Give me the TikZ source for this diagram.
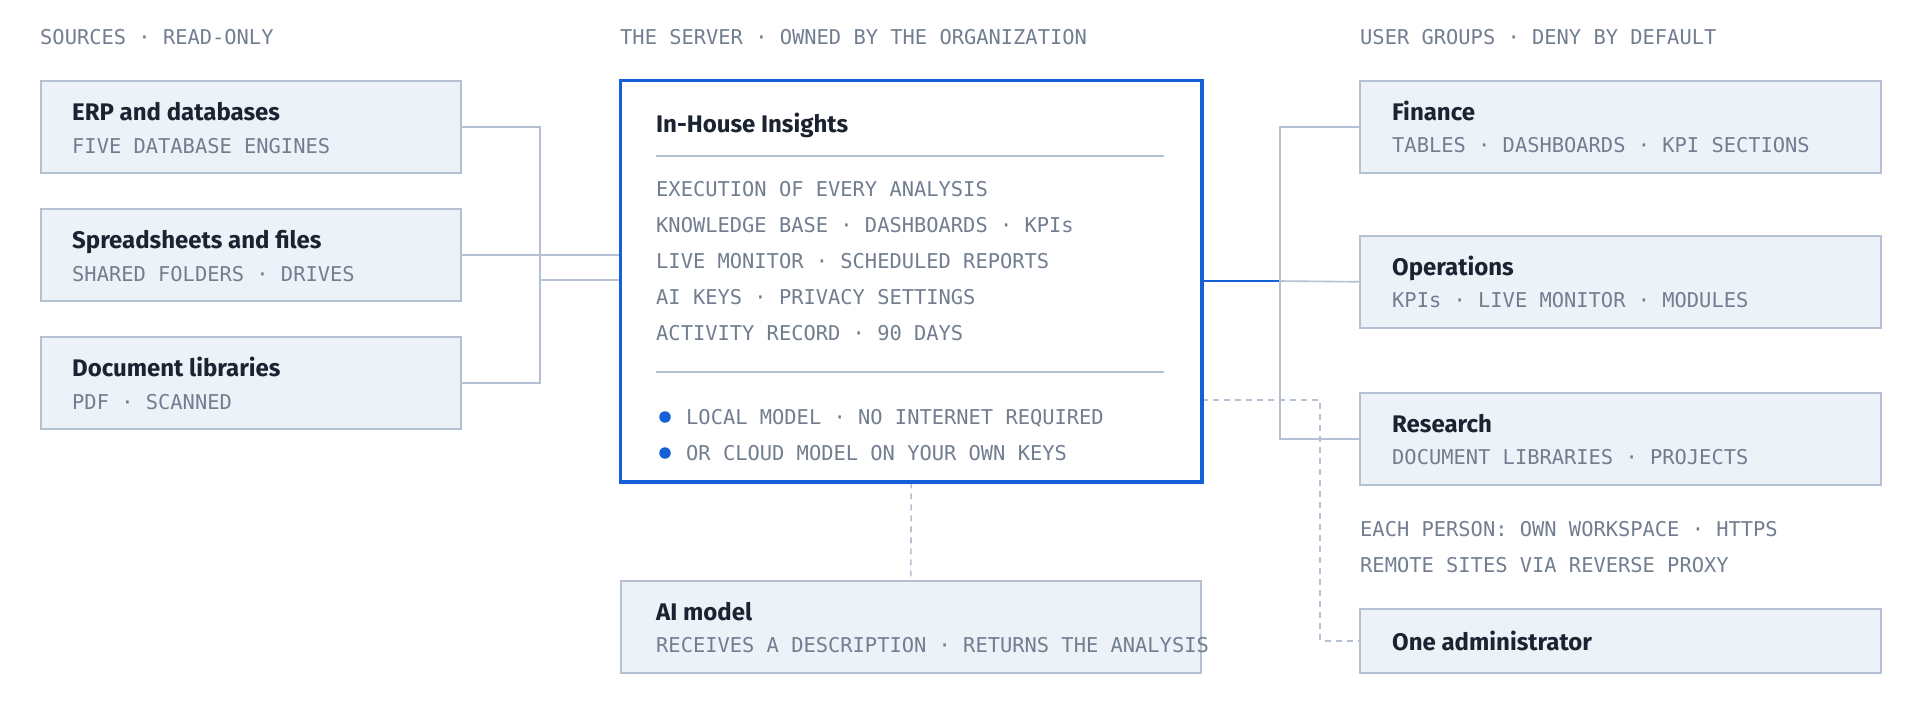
\documentclass[tikz,border=0pt]{standalone}
\usepackage{fontspec}
\setmainfont{Fira Sans}
\newfontfamily\monof{DejaVu Sans Mono}
\newfontfamily\titlef{Fira Sans}
\definecolor{boxfill}{HTML}{EDF1F8}
\definecolor{boxline}{HTML}{B5C1D3}
\definecolor{accent}{HTML}{1560D9}
\definecolor{titlec}{HTML}{1B2230}
\definecolor{monoc}{HTML}{727E90}
\tikzset{
  card/.style={draw=boxline, fill=boxfill, line width=1.6pt, rectangle, anchor=north west, inner sep=0pt},
  server/.style={draw=accent, fill=white, line width=2.4pt, rectangle, anchor=north west, inner sep=0pt},
  ttl/.style={anchor=base west, inner sep=0pt, text=titlec, font=\titlef\bfseries\fontsize{24}{28}\selectfont},
  mono/.style={anchor=base west, inner sep=0pt, text=monoc, font=\monof\fontsize{20.4}{24}\selectfont},
  conn/.style={draw=boxline, line width=1.6pt},
  bconn/.style={draw=accent, line width=1.6pt},
  dconn/.style={draw=boxline, line width=1.6pt, dash pattern=on 6pt off 5pt},
  sepline/.style={draw=boxline, line width=1.6pt},
  dot/.style={circle, fill=accent, inner sep=0pt, minimum size=11.5pt}
}
\begin{document}
\begin{tikzpicture}[x=1pt, y=-1pt]
\useasboundingbox (0,0) rectangle (1920,720);
% headers
\node[mono] (h1) at (40,44) {SOURCES · READ-ONLY};
\node[mono] (h2) at (620,44) {THE SERVER · OWNED BY THE ORGANIZATION};
\node[mono] (h3) at (1360,44) {USER GROUPS · DENY BY DEFAULT};
% coordinates for buses
\coordinate (lbus) at (540,280);
\coordinate (rbus) at (1280,281);
\coordinate (dcorner) at (1320,400);
% boxes
\node[card, minimum width=420pt, minimum height=92pt] (erp) at (40,80) {};
\node[card, minimum width=420pt, minimum height=92pt] (sheet) at (40,208) {};
\node[card, minimum width=420pt, minimum height=92pt] (doc) at (40,336) {};
\node[server, minimum width=580pt, minimum height=400pt] (srv) at (620,80) {};
\node[card, minimum width=580pt, minimum height=92pt] (ai) at (620,580) {};
\node[card, minimum width=521pt, minimum height=92pt] (fin) at (1359,80) {};
\node[card, minimum width=521pt, minimum height=92pt] (ops) at (1359,235) {};
\node[card, minimum width=521pt, minimum height=92pt] (res) at (1359,392) {};
\node[card, minimum width=521pt, minimum height=64pt] (adm) at (1359,608) {};
% connectors
\draw[conn] (erp.east) -| (lbus) |- (doc.east);
\draw[conn] (lbus) -- (lbus -| srv.west);
\draw[conn] (sheet.east) -- (sheet.east -| srv.west);
\draw[bconn] (rbus -| srv.east) -- (rbus);
\draw[conn] (rbus) -- (ops.west);
\draw[conn] (fin.west) -| (rbus) |- (res.west);
\draw[dconn] (dcorner -| srv.east) -- (dcorner) |- (adm.west);
\draw[dconn] (srv.south) -- (ai.north);
\draw[accent, line width=2.4pt] (srv.north west) rectangle (srv.south east);
% left texts
\node[ttl] (erpt) at (72,120) {ERP and databases};
\node[mono] (erps) at (72,153) {FIVE DATABASE ENGINES};
\node[ttl] (sheett) at (72,248) {Spreadsheets and files};
\node[mono] (sheets) at (72,281) {SHARED FOLDERS · DRIVES};
\node[ttl] (doct) at (72,376) {Document libraries};
\node[mono] (docs) at (72,409) {PDF · SCANNED};
% server texts
\node[ttl] (srvt) at (656,132) {In-House Insights};
\coordinate (s1a) at (656,156);
\coordinate (s1b) at (1164,156);
\draw[sepline] (s1a) -- (s1b);
\node[mono] (l1) at (656,196) {EXECUTION OF EVERY ANALYSIS};
\node[mono] (l2) at (656,232) {KNOWLEDGE BASE · DASHBOARDS · KPIs};
\node[mono] (l3) at (656,268) {LIVE MONITOR · SCHEDULED REPORTS};
\node[mono] (l4) at (656,304) {AI KEYS · PRIVACY SETTINGS};
\node[mono] (l5) at (656,340) {ACTIVITY RECORD · 90 DAYS};
\coordinate (s2a) at (656,372);
\coordinate (s2b) at (1164,372);
\draw[sepline] (s2a) -- (s2b);
\node[dot] (d1) at (665,417) {};
\node[mono] (b1) at (686,424) {LOCAL MODEL · NO INTERNET REQUIRED};
\node[dot] (d2) at (665,453) {};
\node[mono] (b2) at (686,460) {OR CLOUD MODEL ON YOUR OWN KEYS};
% AI model
\node[ttl] (ait) at (656,620) {AI model};
\node[mono] (ais) at (656,652) {RECEIVES A DESCRIPTION · RETURNS THE ANALYSIS};
% right texts
\node[ttl] (fint) at (1392,120) {Finance};
\node[mono] (fins) at (1392,152) {TABLES · DASHBOARDS · KPI SECTIONS};
\node[ttl] (opst) at (1392,275) {Operations};
\node[mono] (opss) at (1392,307) {KPIs · LIVE MONITOR · MODULES};
\node[ttl] (rest) at (1392,432) {Research};
\node[mono] (ress) at (1392,464) {DOCUMENT LIBRARIES · PROJECTS};
\node[mono] (n1) at (1360,536) {EACH PERSON: OWN WORKSPACE · HTTPS};
\node[mono] (n2) at (1360,572) {REMOTE SITES VIA REVERSE PROXY};
\node[ttl] (admt) at (1392,650) {One administrator};
\end{tikzpicture}
\end{document}
